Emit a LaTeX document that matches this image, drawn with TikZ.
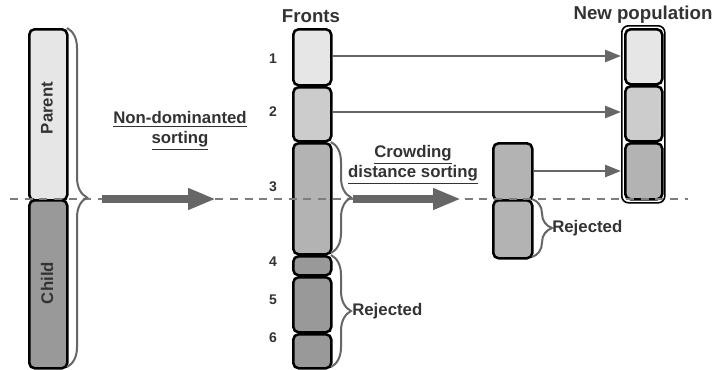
\documentclass[tikz,border=0pt]{standalone}
\usepackage{fontspec}
\setmainfont{Liberation Sans}
\usetikzlibrary{arrows.meta,decorations.pathreplacing}

\definecolor{shadeA}{HTML}{E6E6E6}
\definecolor{shadeB}{HTML}{CCCCCC}
\definecolor{shadeC}{HTML}{B3B3B3}
\definecolor{shadeD}{HTML}{999999}
\definecolor{linegray}{HTML}{666666}
\definecolor{textgray}{HTML}{333333}

% one drawing unit = one pixel of the 713 x 369 canvas, y grows downwards
\tikzset{
  x=0.75pt, y=-0.75pt,
  blk/.style={draw=black, line width=1.9pt, rounded corners=4pt, inner sep=0pt},
  lbl/.style={font=\bfseries\fontsize{12.6}{14}\selectfont, text=textgray, inner sep=0pt},
  head/.style={font=\bfseries\fontsize{14}{16}\selectfont, text=textgray, inner sep=0pt},
  num/.style={font=\bfseries\fontsize{10.5}{12}\selectfont, text=textgray, inner sep=0pt},
  brc/.style={draw=linegray, line width=1.5pt,
    decorate, decoration={brace, amplitude=#1}},
  brc/.default=15pt,
  thin arrow/.style={draw=linegray, line width=2pt, -{Triangle[length=12pt,width=9pt]}},
  fat arrow/.style={draw=linegray, line width=6pt, -{Triangle[length=21pt,width=15pt]}},
  midline/.style={draw=linegray!85, line width=1pt, dash pattern=on 6pt off 5pt}
}

% \popbox{name}{x1}{y1}{x2}{y2}{fill}
\newcommand\popbox[6]{%
  \node[blk, fill=#6, anchor=north west,
        minimum width={(#4-#2)*0.75pt}, minimum height={(#5-#3)*0.75pt}]
        (#1) at (#2,#3) {};}

\begin{document}
\begin{tikzpicture}
\useasboundingbox (0,0) rectangle (713,369);

% combined population
\popbox{parent}{28}{28}{66}{199}{shadeA}
\popbox{child}{28}{199}{66}{367}{shadeD}
\node[lbl, rotate=90] (ptxt) at (47,108) {Parent};
\node[lbl, rotate=90] (ctxt) at (47,283) {Child};

% fronts
\node[head] (fronts) at (311,16) {Fronts};
\popbox{f1}{292}{28}{330}{84}{shadeA}
\popbox{f2}{292}{86}{330}{140}{shadeB}
\popbox{f3}{292}{142}{330}{253}{shadeC}
\popbox{f4}{292}{255}{330}{274}{shadeD}
\popbox{f5}{292}{276}{330}{331}{shadeD}
\popbox{f6}{292}{333}{330}{367}{shadeD}
\node[num] (n1) at (273,59) {1};
\node[num] (n2) at (273,112) {2};
\node[num] (n3) at (273,187) {3};
\node[num] (n4) at (273,262) {4};
\node[num] (n5) at (273,300) {5};
\node[num] (n6) at (273,338) {6};

% front 3 split by crowding distance
\popbox{c1}{492}{142}{531}{199}{shadeC}
\popbox{c2}{492}{199}{531}{257}{shadeC}

% new population
\node[head] (newpop) at (643,15) {New population};
\node[draw=black, line width=1.2pt, rounded corners=5pt, inner sep=0pt,
      anchor=north west, minimum width=32.25pt, minimum height=132.75pt]
      (npout) at (621,25) {};
\popbox{p1}{624}{28}{661}{83}{shadeA}
\popbox{p2}{624}{85}{661}{140}{shadeB}
\popbox{p3}{624}{142}{661}{198}{shadeC}

% population limit
\coordinate (mlA) at (10,199);
\coordinate (mlB) at (688,199);
\draw[midline] (mlA) -- (mlB);

% braces
\draw[brc] (67,28) -- (67,367);
\draw[brc] (331,142) -- (331,253);
\draw[brc] (331,255) -- (331,367);
\coordinate (rtip) at (352,311);
\draw[brc] (532,199) -- (532,257);
\coordinate (r2tip) at (552,228);

\node[lbl, anchor=west] (rej1) at (rtip) {Rejected};
\node[lbl, anchor=west] (rej2) at (r2tip) {Rejected};

% sorting steps
\coordinate (a1s) at (102,199);
\coordinate (a1e) at (216,199);
\draw[fat arrow] (a1s) -- (a1e);
\node[lbl, align=center] (nds) at (180,131)
  {\underline{Non-dominanted}\\[1pt]\underline{sorting}};

\coordinate (a2s) at (353,199);
\coordinate (a2e) at (461,199);
\draw[fat arrow] (a2s) -- (a2e);
\node[lbl, align=center] (cds) at (413,165)
  {\underline{Crowding}\\[1pt]\underline{distance sorting}};

% transfers into the new population
\draw[thin arrow] (f1.east |- 0,56) -- (npout.west |- 0,56);
\draw[thin arrow] (f2.east |- 0,112) -- (npout.west |- 0,112);
\draw[thin arrow] (c1.east |- 0,171) -- (npout.west |- 0,171);
\end{tikzpicture}
\end{document}
